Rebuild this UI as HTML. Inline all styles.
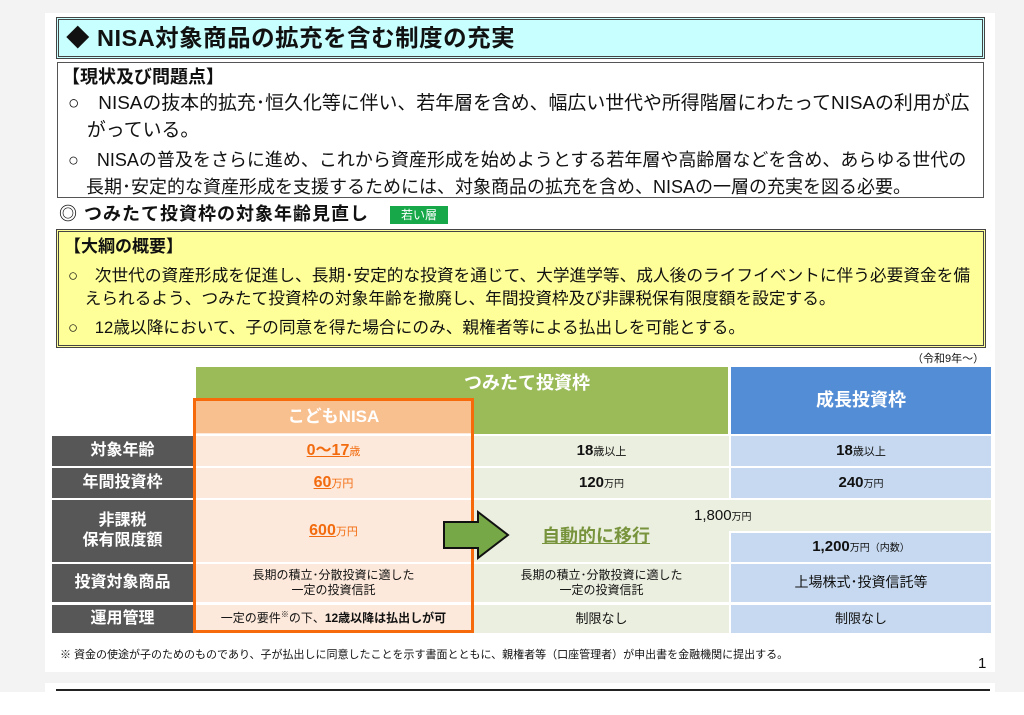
<!DOCTYPE html>
<html><head><meta charset="utf-8"><style>
*{margin:0;padding:0;box-sizing:border-box}
body{width:1024px;height:715px;background:#fff;position:relative;overflow:hidden;font-family:"Liberation Sans","Noto Sans CJK JP",sans-serif;color:#111}
div{position:absolute}
.t{white-space:nowrap}
.c{display:flex;align-items:center;justify-content:center;text-align:center;line-height:1.25}
.c p{white-space:nowrap}
.lab{background:#575757;color:#fff;font-weight:bold;font-size:16px;left:52px;width:141px}
.g{background:#ebefdf}
.b{background:#c6d9f0}
.bn{font-weight:bold;font-size:15px}
.sm{font-size:10px;font-weight:normal}
.o{color:#f26b0f;font-weight:bold;text-decoration:underline;font-size:16px}
</style></head><body>
<div style="left:0;top:0;width:1024px;height:692px;background:#f3f3f3"></div>
<div style="left:45px;top:13px;width:950px;height:659px;background:#fff"></div>
<div style="left:45px;top:683px;width:950px;height:9px;background:#fff"></div>
<div style="left:56px;top:689px;width:934px;height:2px;background:#222"></div>

<div style="left:56px;top:17px;width:929px;height:42px;background:#c8ffff;border:3px double #444"></div>
<div class="t" style="left:66px;top:21px;font-size:23.5px;font-weight:bold;line-height:34px;letter-spacing:0.5px">◆ NISA対象商品の拡充を含む制度の充実</div>

<div style="left:57px;top:62px;width:927px;height:136px;border:1px solid #555;background:#fff"></div>
<div class="t" style="left:62px;top:65px;font-size:18px;font-weight:bold;line-height:24px">【現状及び問題点】</div>
<div class="t" style="left:68px;top:90px;font-size:18.9px;line-height:27px">○　NISAの抜本的拡充･恒久化等に伴い、若年層を含め、幅広い世代や所得階層にわたってNISAの利用が広<br>　がっている。</div>
<div class="t" style="left:68px;top:147px;font-size:18px;line-height:27px">○　NISAの普及をさらに進め、これから資産形成を始めようとする若年層や高齢層などを含め、あらゆる世代の<br>　長期･安定的な資産形成を支援するためには、対象商品の拡充を含め、NISAの一層の充実を図る必要。</div>

<div class="t" style="left:59px;top:202px;font-size:18px;font-weight:bold;line-height:24px;letter-spacing:1px">◎ つみたて投資枠の対象年齢見直し</div>
<div class="c" style="left:390px;top:206px;width:58px;height:18px;background:#17a84a;color:#fff;font-size:12px">若い層</div>

<div style="left:56px;top:229px;width:930px;height:119px;background:#ffff99;border:3px double #444"></div>
<div class="t" style="left:64px;top:235px;font-size:17px;font-weight:bold;line-height:24px">【大綱の概要】</div>
<div class="t" style="left:68px;top:264px;font-size:16.7px;line-height:23px">○　次世代の資産形成を促進し、長期･安定的な投資を通じて、大学進学等、成人後のライフイベントに伴う必要資金を備<br>　えられるよう、つみたて投資枠の対象年齢を撤廃し、年間投資枠及び非課税保有限度額を設定する。</div>
<div class="t" style="left:68px;top:316px;font-size:16.7px;line-height:23px">○　12歳以降において、子の同意を得た場合にのみ、親権者等による払出しを可能とする。</div>
<div class="t" style="left:912px;top:350px;font-size:11px">（令和9年～）</div>

<div class="c" style="left:196px;top:367px;width:532px;height:33px;background:#9bbb59;color:#fff;font-size:18px;font-weight:bold;padding-left:130px">つみたて投資枠</div>
<div style="left:196px;top:400px;width:532px;height:34px;background:#9bbb59"></div>
<div class="c" style="left:731px;top:367px;width:260px;height:67px;background:#538dd5;color:#fff;font-size:18px;font-weight:bold">成長投資枠</div>

<div class="c lab" style="top:436px;height:30px">対象年齢</div>
<div class="c lab" style="top:468px;height:30px">年間投資枠</div>
<div class="c lab" style="top:500px;height:62px"><p>非課税<br>保有限度額</p></div>
<div class="c lab" style="top:564px;height:38px">投資対象商品</div>
<div class="c lab" style="top:605px;height:28px">運用管理</div>

<div class="c g bn" style="left:474px;top:436px;width:255px;height:30px"><p>18<span class="sm" style="font-size:11px">歳以上</span></p></div>
<div class="c g bn" style="left:474px;top:468px;width:255px;height:30px"><p>120<span class="sm">万円</span></p></div>
<div class="g" style="left:474px;top:500px;width:517px;height:31px"></div>
<div class="g" style="left:474px;top:531px;width:255px;height:31px"></div>
<div class="t" style="left:694px;top:507px;font-size:15px">1,800<span class="sm">万円</span></div>
<div class="c g" style="left:474px;top:564px;width:255px;height:38px;font-size:12px"><p>長期の積立･分散投資に適した<br>一定の投資信託</p></div>
<div class="c g" style="left:474px;top:605px;width:255px;height:28px;font-size:13px">制限なし</div>

<div class="c b bn" style="left:731px;top:436px;width:260px;height:30px"><p>18<span class="sm" style="font-size:11px">歳以上</span></p></div>
<div class="c b bn" style="left:731px;top:468px;width:260px;height:30px"><p>240<span class="sm">万円</span></p></div>
<div class="c b bn" style="left:731px;top:533px;width:260px;height:29px"><p>1,200<span class="sm">万円（内数）</span></p></div>
<div class="c b" style="left:731px;top:564px;width:260px;height:38px;font-size:14px">上場株式･投資信託等</div>
<div class="c b" style="left:731px;top:605px;width:260px;height:28px;font-size:13px">制限なし</div>

<div class="t" style="left:542px;top:522px;font-size:18px;font-weight:bold;color:#77933c;text-decoration:underline">自動的に移行</div>

<div style="left:193px;top:398px;width:281px;height:235px;background:#fde9db;border:3px solid #f76a0c"></div>
<div class="c" style="left:196px;top:401px;width:275px;height:32px;background:#f9c08f;color:#fff;font-size:17px;font-weight:bold">こどもNISA</div>
<div style="left:196px;top:434px;width:275px;height:2px;background:#fff"></div>
<div style="left:196px;top:466px;width:275px;height:2px;background:#fff"></div>
<div style="left:196px;top:498px;width:275px;height:2px;background:#fff"></div>
<div style="left:196px;top:562px;width:275px;height:2px;background:#fff"></div>
<div style="left:196px;top:602px;width:275px;height:3px;background:#fff"></div>
<div class="c" style="left:196px;top:436px;width:275px;height:30px"><p><span class="o">0～17</span><span style="color:#f26b0f;font-size:11px">歳</span></p></div>
<div class="c" style="left:196px;top:468px;width:275px;height:30px"><p><span class="o">60</span><span style="color:#f26b0f;font-size:11px">万円</span></p></div>
<div class="c" style="left:196px;top:500px;width:275px;height:62px"><p><span class="o">600</span><span style="color:#f26b0f;font-size:11px">万円</span></p></div>
<div class="c" style="left:196px;top:564px;width:275px;height:38px;font-size:12px"><p>長期の積立･分散投資に適した<br>一定の投資信託</p></div>
<div class="c" style="left:196px;top:605px;width:275px;height:25px;font-size:12px"><p>一定の要件<sup style="font-size:8px">※</sup>の下、<b>12歳以降は払出しが可</b></p></div>

<svg style="position:absolute;left:442px;top:510px" width="70" height="50"><polygon points="2,12 36,12 36,2 66,25 36,48 36,38 2,38" fill="#77a848" stroke="#111" stroke-width="2"/></svg>

<div class="t" style="left:60px;top:646px;font-size:11px">※ 資金の使途が子のためのものであり、子が払出しに同意したことを示す書面とともに、親権者等（口座管理者）が申出書を金融機関に提出する。</div>
<div class="t" style="left:978px;top:655px;font-size:15px">1</div>
</body></html>
